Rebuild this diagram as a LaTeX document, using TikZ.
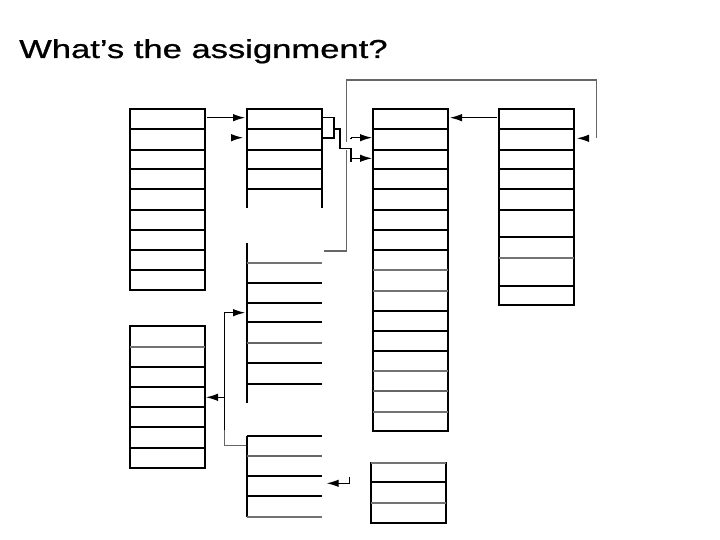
\documentclass[tikz,border=0pt]{standalone}
\usepackage{fontspec}
\setmainfont{Liberation Sans}
\newfontfamily\titlefont[FakeBold=0.8]{Liberation Sans}
\usetikzlibrary{arrows.meta}

\tikzset{
  frame/.style={line width=1.1pt},
  bold row/.style={line width=2.4pt},
  grey row/.style={line width=1.2pt,black!55},
  greybold row/.style={line width=2.2pt,black!60},
  ptr/.style={line width=1.1pt,-{Latex[length=12pt,width=7.5pt]}},
  link/.style={line width=1.1pt,black!60},
}

\begin{document}
\begin{tikzpicture}[x=1pt,y=-1pt]
\useasboundingbox (0,0) rectangle (720,540);
% The title
\node[anchor=base west,inner sep=0pt] (title) at (19,58)
  {\scalebox{1.33}[1]{\fontsize{26}{30}\titlefont What’s the assignment?}};

% Stack A, top
\draw[frame] (130,109) rectangle (205,290);
\foreach \y in {129,169,189,210,230,270}
  \draw[frame] (130,\y) -- (205,\y);
\foreach \y in {150,250}
  \draw[bold row] (130,\y) -- (205,\y);

% Stack A, bottom
\draw[frame] (130,326) rectangle (205,468);
\foreach \y in {367,387,427,448}
  \draw[frame] (130,\y) -- (205,\y);
\draw[grey row] (130,347) -- (205,347);
\draw[bold row] (130,407) -- (205,407);

% Stack B, three open pieces
\draw[frame] (247,208) -- (247,109) -- (322,109) -- (322,208);
\foreach \y in {129,169,189}
  \draw[frame] (247,\y) -- (322,\y);
\draw[bold row] (247,150) -- (322,150);
\draw[frame] (247,243) -- (247,403);
\foreach \y in {303,322,363}
  \draw[frame] (247,\y) -- (322,\y);
\foreach \y in {283,384}
  \draw[bold row] (247,\y) -- (322,\y);
\draw[grey row] (247,263) -- (322,263);
\draw[greybold row] (247,343) -- (322,343);
\draw[frame] (247,436) -- (247,517);
\foreach \y in {436,476,496}
  \draw[frame] (247,\y) -- (322,\y);
\draw[greybold row] (247,456) -- (322,456);
\draw[grey row] (247,517) -- (322,517);

% Stack C
\draw[frame] (373,109) rectangle (448,431);
\foreach \y in {129,169,189,210,230,311,331}
  \draw[frame] (373,\y) -- (448,\y);
\foreach \y in {150,250,351}
  \draw[bold row] (373,\y) -- (448,\y);
\foreach \y in {270,291,371,412}
  \draw[grey row] (373,\y) -- (448,\y);
\draw[greybold row] (373,391) -- (448,391);

% Stack D
\draw[frame] (499,109) rectangle (574,305);
\foreach \y in {129,169,189,210,237}
  \draw[frame] (499,\y) -- (574,\y);
\foreach \y in {150,286}
  \draw[bold row] (499,\y) -- (574,\y);
\draw[grey row] (499,258) -- (574,258);

% Stack E
\draw[frame] (371,463) rectangle (446,523);
\draw[frame] (371,482) -- (446,482);
\draw[grey row] (371,503) -- (446,503);
\draw[grey row] (371,463) -- (446,463);

% Ends of the pointers
\coordinate (a1) at (207,117.7);
\coordinate (b1) at (245,117.7);
\coordinate (b2) at (243,137.7);
\coordinate (b2s) at (231,137.7);
\coordinate (jn) at (351,137.7);
\coordinate (jm) at (351,158.3);
\coordinate (c2) at (372,137.7);
\coordinate (c3) at (372,158.3);
\coordinate (d1) at (497,117.7);
\coordinate (c1) at (450,117.7);
\coordinate (loop) at (324,251);
\coordinate (d2) at (577,138.3);
\coordinate (fork) at (224.3,397.3);
\coordinate (a4) at (206,397.3);
\coordinate (bm) at (245,312.7);
\coordinate (bb) at (246,445.7);
\coordinate (eh) at (349.3,476.7);
\coordinate (b3) at (326.7,483.3);

% The pointers
\draw[ptr] (a1) -- (b1);
\draw[ptr] (b2s) -- (b2);
\draw[frame] (323,117.3) -| (334,138) -- (323,138);
\draw[frame] (334,129) -| (340,148.3) -| (351,161.7);
\draw[frame] (351,139.3) -- (jn);
\draw[ptr] (jn) -- (c2);
\draw[ptr] (jm) -- (c3);
\draw[ptr] (d1) -- (c1);
\draw[link] (loop) -| (346.7,150);
\draw[link] (346.7,141.7) -- (346.7,80) -| (596.7,138.3);
\draw[ptr] (588,138.3) -- (d2);
\draw[link] (224.3,312.7) |- (bb);
\draw[frame] (224.3,312.7) -- (224.3,430);
\draw[ptr] (224.3,312.7) -- (bm);
\draw[ptr] (fork) -- (a4);
\draw[ptr] (eh) |- (b3);
\end{tikzpicture}
\end{document}
